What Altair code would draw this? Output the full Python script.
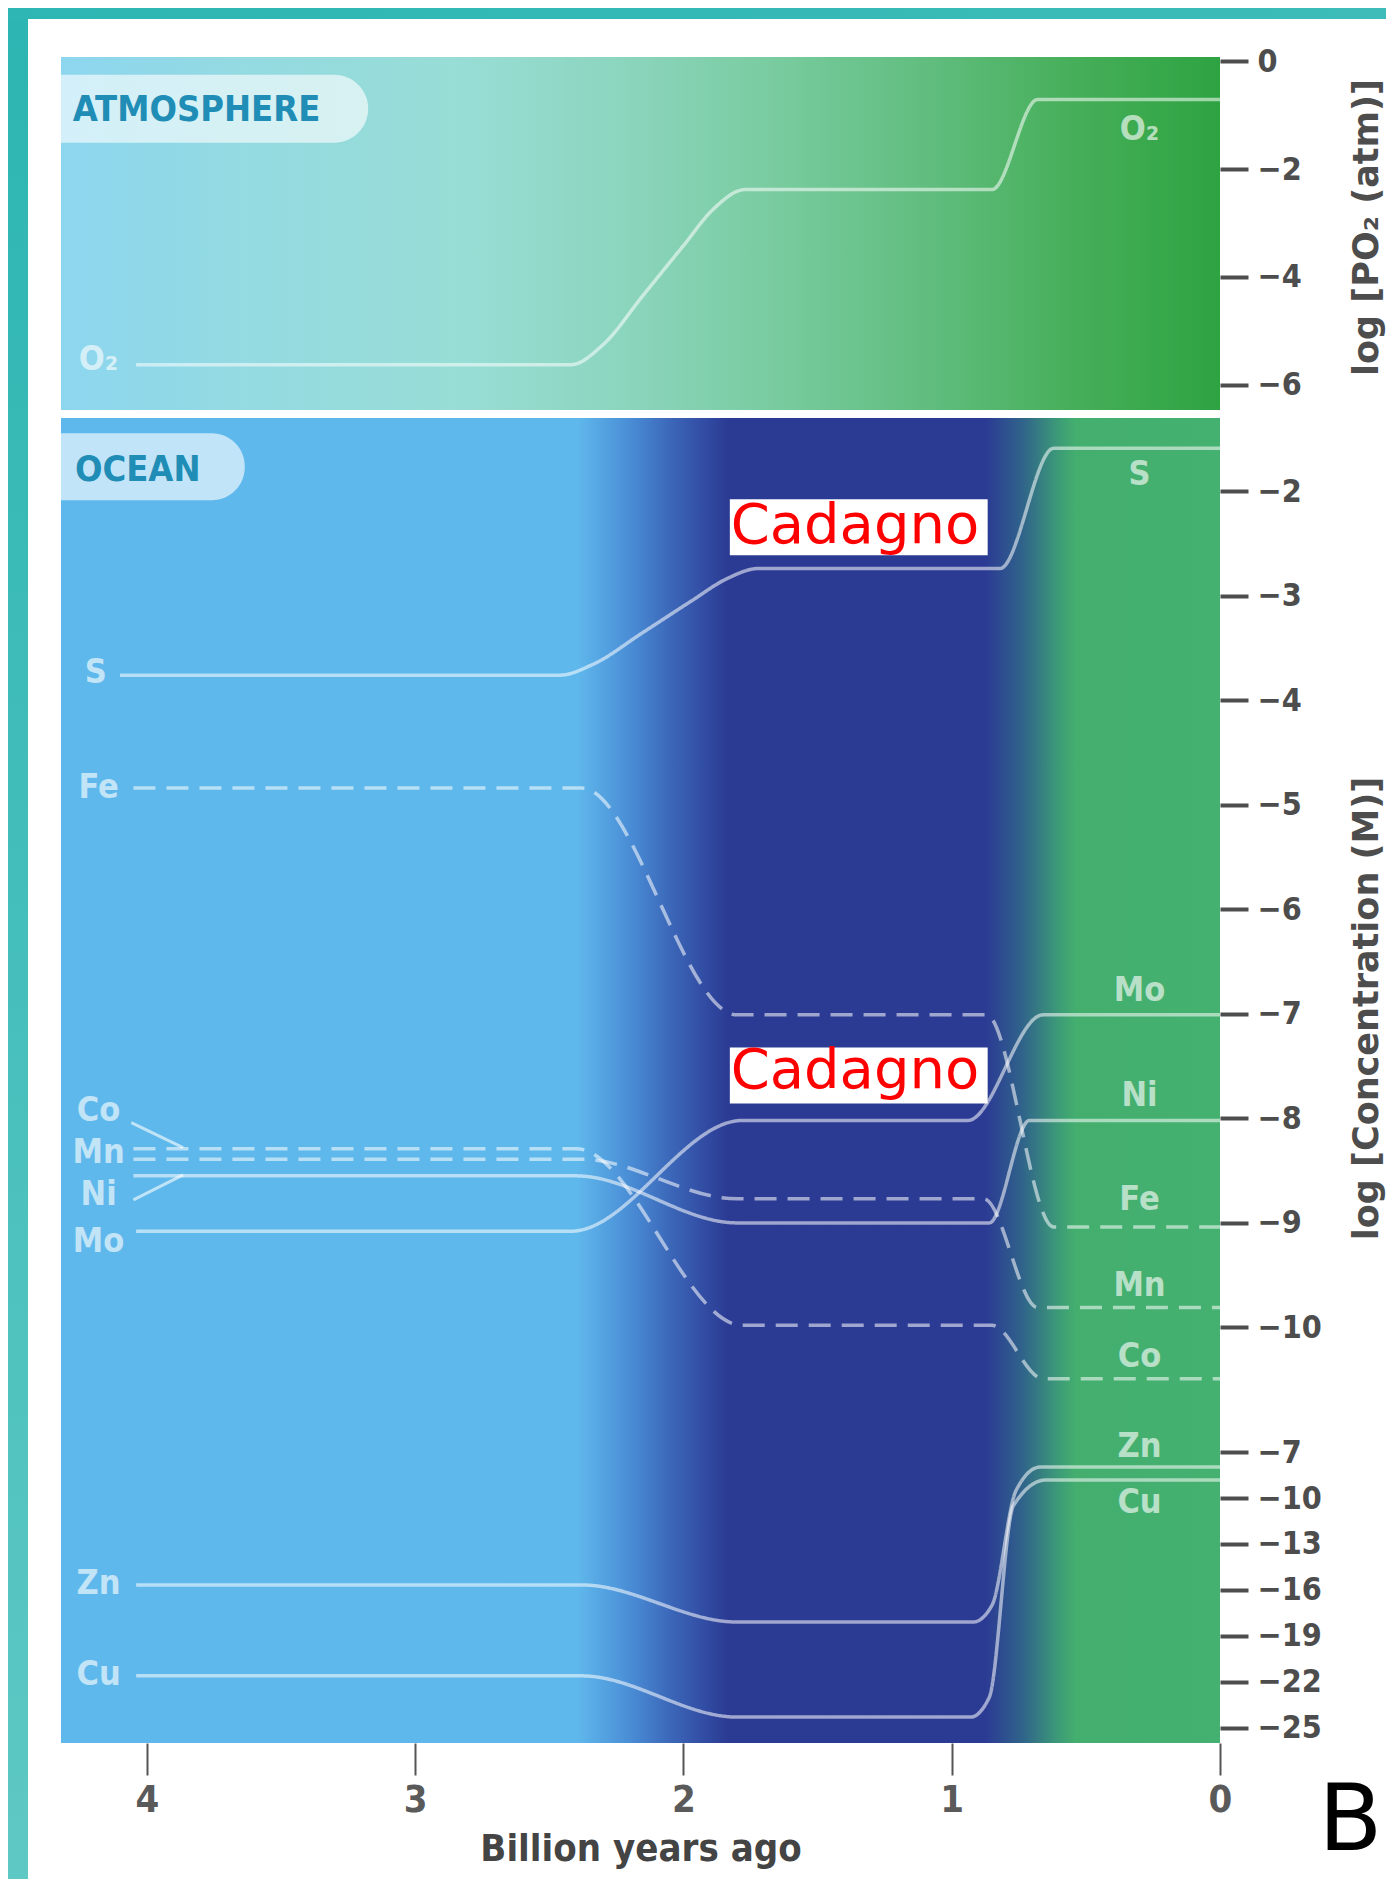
import altair as alt
import pandas as pd

# ---------------- axis ticks ----------------
x_ticks = [4, 3, 2, 1, 0]
atm_ticks = [0, -2, -4, -6]
ocean_ticks = [-2, -3, -4, -5, -6, -7, -8, -9, -10]
low_ticks = [-7, -10, -13, -16, -19, -22, -25]

# ---------------- series: billion years ago -> log value ----------------
o2_gya = [4.04, 2.42, 2.30, 2.15, 2.00, 1.89, 1.77, 0.85, 0.68, 0.0]
o2_val = [-5.63, -5.63, -5.26, -4.34, -3.42, -2.75, -2.38, -2.38, -0.71, -0.71]

s_gya = [4.10, 2.46, 2.34, 2.15, 1.97, 1.84, 1.72, 0.82, 0.62, 0.0]
s_val = [-3.76, -3.76, -3.66, -3.35, -3.05, -2.84, -2.74, -2.74, -1.59, -1.59]

fe_gya = [4.05, 2.38, 1.80, 0.87, 0.62, 0.0]
fe_val = [-4.84, -4.84, -7.01, -7.01, -9.04, -9.04]

co_gya = [4.05, 2.40, 1.78, 0.85, 0.66, 0.0]
co_val = [-8.29, -8.29, -9.98, -9.98, -10.49, -10.49]

mn_gya = [4.05, 2.38, 1.80, 0.88, 0.68, 0.0]
mn_val = [-8.39, -8.39, -8.77, -8.77, -9.81, -9.81]

ni_gya = [4.05, 2.40, 1.80, 0.86, 0.71, 0.0]
ni_val = [-8.55, -8.55, -9.00, -9.00, -8.02, -8.02]

mo_gya = [4.04, 2.42, 1.78, 0.94, 0.66, 0.0]
mo_val = [-9.08, -9.08, -8.02, -8.02, -7.01, -7.01]

zn_gya = [4.04, 2.38, 1.80, 0.92, 0.85, 0.76, 0.67, 0.0]
zn_val = [-15.67, -15.67, -18.09, -18.09, -17.0, -9.5, -7.98, -7.98]

cu_gya = [4.04, 2.38, 1.80, 0.93, 0.86, 0.77, 0.65, 0.0]
cu_val = [-21.6, -21.6, -24.29, -24.29, -23.0, -10.5, -8.83, -8.83]

# ---------------- labels ----------------
atm_label_text = ["O₂", "O₂"]
atm_label_gya = [4.18, 0.30]
atm_label_val = [-5.54, -1.28]

up_label_text = ["S", "Fe", "Co", "Mn", "Ni", "Mo", "S", "Mo", "Ni", "Fe", "Mn", "Co"]
up_label_gya = [4.19, 4.18, 4.18, 4.18, 4.18, 4.18, 0.30, 0.30, 0.30, 0.30, 0.30, 0.30]
up_label_val = [-3.74, -4.84, -7.93, -8.33, -8.73, -9.18, -1.85, -6.78, -7.79, -8.78, -9.60, -10.28]

low_label_text = ["Zn", "Cu", "Zn", "Cu"]
low_label_gya = [4.18, 4.18, 0.30, 0.30]
low_label_val = [-15.61, -21.55, -6.67, -10.33]

# pointer strokes from Co / Ni labels to their lines
ptr_x1 = [4.058, 4.050]
ptr_x2 = [3.865, 3.865]
ptr_y1 = [-8.04, -8.78]
ptr_y2 = [-8.28, -8.54]

# annotation boxes
cad_text = ["Cadagno", "Cadagno"]
cad_x1 = [1.827, 1.827]
cad_x2 = [0.866, 0.866]
cad_y1 = [-2.077, -7.321]
cad_y2 = [-2.612, -7.857]
cad_tx = [1.824, 1.824]
cad_ty = [-2.498, -7.713]

# ---------------- layout constants ----------------
W = 1159
H_ATM, H_UP, H_LOW = 353, 992, 333
X_DOMAIN = [0, 4.32]
ATM_DOMAIN = [-6.47, 0.08]
UP_DOMAIN = [-10.79, -1.30]
LOW_DOMAIN = [-25.98, -4.26]

FONT_N = "DejaVu Sans Condensed, DejaVu Sans, sans-serif"
FONT_AX = "DejaVu Sans Condensed, DejaVu Sans, sans-serif"
FONT_T = "DejaVu Sans, sans-serif"
AX_COL = "#4d4d4d"

xscale = alt.Scale(domain=X_DOMAIN, reverse=True, nice=False, zero=False)


def grad(stops, vertical=False):
    return alt.LinearGradient(
        gradient="linear",
        x1=0, x2=0 if vertical else 1, y1=0, y2=1 if vertical else 0,
        stops=[alt.GradientStop(offset=o, color=c) for o, c in stops],
    )


atm_stops = [(0, "#8dd6ef"), (0.15, "#93dae2"), (0.35, "#98ddd5"), (0.5, "#8ad4bb"),
             (0.62, "#78cb9e"), (0.75, "#60bd7e"), (0.88, "#45ae58"), (1, "#2ea342")]
ocean_stops = [(0, "#5fb8ec"), (0.445, "#5fb8ec"), (0.49, "#4a8ed6"), (0.53, "#3a63b6"),
               (0.575, "#2b3b94"), (0.798, "#2b3b94"), (0.83, "#30648a"), (0.86, "#3c9a78"),
               (0.875, "#43ae6e"), (1.0, "#45b170")]

one = pd.DataFrame({"k": [0]})


def lines_df(spec):
    rows = []
    for name, g, v, dashed in spec:
        for gi, vi in zip(g, v):
            rows.append({"series": name, "gya": gi, "v": vi, "dash": "yes" if dashed else "no"})
    return pd.DataFrame(rows)


def yaxis(values, title=None, title_y=0):
    kw = dict(orient="right", values=values, tickSize=28, tickWidth=4, tickColor=AX_COL,
              domain=False, grid=False, labelFont=FONT_AX, labelFontSize=32,
              labelFontWeight="bold", labelColor=AX_COL, labelPadding=9, format="d",
              zindex=1)
    if title:
        kw.update(title=title, titleFont=FONT_T, titleFontSize=35, titleFontWeight="bold",
                  titleColor=AX_COL, titleAngle=270, titleX=146, titleY=title_y,
                  titleAlign="center", titleBaseline="middle")
    else:
        kw.update(title="")
    return alt.Axis(**kw)


def make_panel(h, ydom, yax, xax, df_lines, labels, extras_before=(), extras_after=(), stops=None):
    ys = alt.Scale(domain=ydom, nice=False, zero=False)

    def X(f):
        return alt.X(f, type="quantitative", scale=xscale, axis=xax)

    def Y(f):
        return alt.Y(f, type="quantitative", scale=ys, axis=yax)

    bg = alt.Chart(one).mark_rect(fill=grad(stops)).encode(
        x=alt.value(0), x2=alt.value(W), y=alt.value(0), y2=alt.value(h))

    lines = alt.Chart(df_lines).mark_line(
        color="white", opacity=0.55, strokeWidth=3.5, interpolate="monotone"
    ).encode(
        x=X("gya"), y=Y("v"), detail="series:N",
        order=alt.Order("gya:Q", sort="descending"),
        strokeDash=alt.StrokeDash("dash:N", scale=alt.Scale(domain=["no", "yes"],
                                                             range=[[1, 0], [22, 11]]),
                                  legend=None),
    )
    lab_df = pd.DataFrame({"label": labels[0], "gya": labels[1], "v": labels[2]})
    labs = alt.Chart(lab_df).mark_text(
        font=FONT_N, fontSize=34, fontWeight="bold", color="white", opacity=0.62,
        align="center", baseline="middle"
    ).encode(x=X("gya"), y=Y("v"), text="label:N")

    layers = [bg] + [e(X, Y) for e in extras_before] + [lines, labs] + [e(X, Y) for e in extras_after]
    return alt.layer(*layers).properties(width=W, height=h)


# ----- extra layers -----
def teal_frame(X, Y):
    left = alt.Chart(one).mark_rect(
        fill=grad([(0, "#2cb5b2"), (1, "#5ec8c4")], vertical=True)).encode(
        x=alt.value(-53), x2=alt.value(-33), y=alt.value(-49), y2=alt.value(1822))
    top = alt.Chart(one).mark_rect(
        fill=grad([(0, "#2db6b3"), (1, "#3dbcb9")])).encode(
        x=alt.value(-53), x2=alt.value(1325), y=alt.value(-49), y2=alt.value(-38))
    return alt.layer(left, top)


def atm_pill(X, Y):
    d = pd.DataFrame({"x1": [4.32], "x2": [3.175], "y1": [-0.25], "y2": [-1.51],
                      "tx": [4.276], "ty": [-0.90], "t": ["ATMOSPHERE"]})
    r = alt.Chart(d).mark_rect(color="white", opacity=0.62, cornerRadiusTopRight=34,
                               cornerRadiusBottomRight=34).encode(
        x=X("x1"), x2="x2", y=Y("y1"), y2="y2")
    t = alt.Chart(d).mark_text(font=FONT_N, fontSize=36, fontWeight="bold", color="#1f8db5",
                               align="left", baseline="middle").encode(
        x=X("tx"), y=Y("ty"), text="t:N")
    return alt.layer(r, t)


def ocean_pill(X, Y):
    d = pd.DataFrame({"x1": [4.32], "x2": [3.635], "y1": [-1.445], "y2": [-2.086],
                      "tx": [4.268], "ty": [-1.80], "t": ["OCEAN"]})
    r = alt.Chart(d).mark_rect(color="white", opacity=0.62, cornerRadiusTopRight=33,
                               cornerRadiusBottomRight=33).encode(
        x=X("x1"), x2="x2", y=Y("y1"), y2="y2")
    t = alt.Chart(d).mark_text(font=FONT_N, fontSize=36, fontWeight="bold", color="#1f8db5",
                               align="left", baseline="middle").encode(
        x=X("tx"), y=Y("ty"), text="t:N")
    return alt.layer(r, t)


def pointers(X, Y):
    d = pd.DataFrame({"x1": ptr_x1, "x2": ptr_x2, "y1": ptr_y1, "y2": ptr_y2})
    return alt.Chart(d).mark_rule(color="white", opacity=0.6, strokeWidth=3).encode(
        x=X("x1"), x2="x2", y=Y("y1"), y2="y2")


def cadagno(X, Y):
    d = pd.DataFrame({"x1": cad_x1, "x2": cad_x2, "y1": cad_y1, "y2": cad_y2,
                      "tx": cad_tx, "ty": cad_ty, "t": cad_text})
    r = alt.Chart(d).mark_rect(color="white").encode(x=X("x1"), x2="x2", y=Y("y1"), y2="y2")
    t = alt.Chart(d).mark_text(font=FONT_T, fontSize=56, color="#ff0000", align="left",
                               baseline="alphabetic").encode(x=X("tx"), y=Y("ty"), text="t:N")
    return alt.layer(r, t)


def letter_b(X, Y):
    d = pd.DataFrame({"gya": [-0.486], "v": [-32.96], "t": ["B"]})
    return alt.Chart(d).mark_text(font=FONT_T, fontSize=93, color="black", align="center",
                                  baseline="alphabetic").encode(x=X("gya"), y=Y("v"), text="t:N")


# ----- panels -----
atm_lines = lines_df([("O2", o2_gya, o2_val, False)])
up_lines = lines_df([("S", s_gya, s_val, False), ("Fe", fe_gya, fe_val, True),
                     ("Co", co_gya, co_val, True), ("Mn", mn_gya, mn_val, True),
                     ("Ni", ni_gya, ni_val, False), ("Mo", mo_gya, mo_val, False)])
low_lines = lines_df([("Zn", zn_gya, zn_val, False), ("Cu", cu_gya, cu_val, False)])

x_axis = alt.Axis(values=x_ticks, tickSize=32, tickWidth=2, tickColor="#555555", domain=False,
                  grid=False, labelFont=FONT_AX, labelFontSize=38, labelFontWeight="bold",
                  labelColor="#5a5a5a", labelPadding=6, labelFlush=False, format="d",
                  title="Billion years ago", titleFont=FONT_N, titleFontSize=38,
                  titleFontWeight="bold", titleColor="#444444", titleY=117,
                  titleBaseline="alphabetic")

atm = make_panel(H_ATM, ATM_DOMAIN, yaxis(atm_ticks, "log [PO₂ (atm)]", 170), None, atm_lines,
                 (atm_label_text, atm_label_gya, atm_label_val),
                 extras_before=(teal_frame, atm_pill), stops=atm_stops)
up = make_panel(H_UP, UP_DOMAIN, yaxis(ocean_ticks, "log [Concentration (M)]", 590), None,
                up_lines, (up_label_text, up_label_gya, up_label_val),
                extras_before=(ocean_pill,), extras_after=(pointers, cadagno), stops=ocean_stops)
low = make_panel(H_LOW, LOW_DOMAIN, yaxis(low_ticks), x_axis, low_lines,
                 (low_label_text, low_label_gya, low_label_val),
                 extras_after=(letter_b,), stops=ocean_stops)

chart = alt.vconcat(
    atm,
    alt.vconcat(up, low, spacing=0, bounds="flush"),
    spacing=8, bounds="flush",
).properties(padding=0).configure_view(strokeWidth=0)

chart.save("out.html", embed_options={"renderer": "svg", "actions": False})
